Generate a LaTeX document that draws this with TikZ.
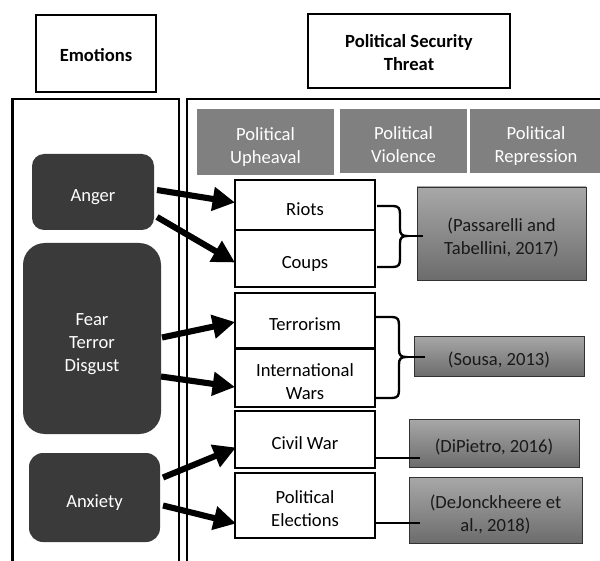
\documentclass[tikz,border=0pt]{standalone}
\usepackage{fontspec}
\setmainfont{Carlito}
\usetikzlibrary{arrows.meta,calc}
\definecolor{emodark}{RGB}{58,58,58}
\definecolor{headgray}{RGB}{128,128,128}
\definecolor{citetop}{RGB}{168,168,168}
\definecolor{citebot}{RGB}{108,108,108}
\definecolor{citeedge}{RGB}{50,50,50}
\definecolor{citetext}{RGB}{25,25,25}
\def\u{0.85pt}
% centred lines of text, set a little below the box centre
\newcommand\celltext[2][-4.4pt]{\raisebox{#1}[\height][\depth]{\begin{tabular}{@{}c@{}}#2\end{tabular}}}
\begin{document}
\begin{tikzpicture}[x=0.85pt,y=-0.85pt,
  every node/.style={font=\fontsize{15.8}{19.5}\selectfont, align=center,
    inner sep=0pt, outer sep=0pt},
  panel/.style={draw=black, line width=2.2pt},
  titlebox/.style={draw=black, line width=1.8pt,
    font=\fontsize{15.8}{19.5}\selectfont\bfseries},
  emotion/.style={fill=emodark, text=white},
  header/.style={fill=headgray, text=white},
  threat/.style={draw=black, line width=1.7pt, fill=white},
  cite/.style={draw=citeedge, line width=0.8pt, top color=citetop,
    bottom color=citebot, text=citetext},
  bigarrow/.style={line width=5.2pt, -{Triangle[length=19pt,width=19.5pt]}},
  link/.style={line width=2pt},
  bracket/.style={line width=2pt}
]
\useasboundingbox (0,0) rectangle (600,561);

% outer panels
\draw[panel] (12.5,570) -- (12.5,99) -- (179,99) -- (179,570);
\draw[panel] (187,570) -- (187,99) -- (610,99);

% column titles
\node[titlebox, minimum width=120*\u, minimum height=77*\u] (emotitle) at (96,53.5) {\celltext[-2.9pt]{Emotions}};
\node[titlebox, minimum width=202*\u, minimum height=74*\u] (threattitle) at (409,51) {\celltext[-2.9pt]{Political Security\\Threat}};

% category headers
\node[header, minimum width=137*\u, minimum height=66*\u] (upheaval) at (265.5,142) {\celltext{Political\\Upheaval}};
\node[header, minimum width=127*\u, minimum height=64*\u] (violence) at (403.5,141) {\celltext{Political\\Violence}};
\node[header, minimum width=132*\u, minimum height=64*\u] (repression) at (536,141) {\celltext{Political\\Repression}};

% emotions
\node[emotion, rounded corners=12*\u, minimum width=122*\u, minimum height=76*\u] (anger) at (93,192) {\celltext{Anger}};
\node[emotion, rounded corners=22*\u, minimum width=138*\u, minimum height=191*\u] (fear) at (92,338.5) {\celltext{Fear\\Terror\\Disgust}};
\node[emotion, rounded corners=14*\u, minimum width=131*\u, minimum height=89*\u] (anxiety) at (94.5,497.5) {\celltext{Anxiety}};

% threats
\node[threat, minimum width=140*\u, minimum height=50*\u] (riots) at (305,205.5) {\celltext{Riots}};
\node[threat, minimum width=140*\u, minimum height=57*\u] (coups) at (305,258.5) {\celltext{Coups}};
\node[threat, minimum width=140*\u, minimum height=55*\u] (terror) at (305,320.5) {\celltext{Terrorism}};
\node[threat, minimum width=140*\u, minimum height=58*\u] (intl) at (305,378) {\celltext{International\\Wars}};
\node[threat, minimum width=140*\u, minimum height=57*\u] (civil) at (305,439.5) {\celltext{Civil War}};
\node[threat, minimum width=140*\u, minimum height=65*\u] (elect) at (305,505.5) {\celltext{Political\\Elections}};

% references
\node[cite, minimum width=169*\u, minimum height=93*\u] (passarelli) at (501.5,233.5) {\celltext{(Passarelli and\\Tabellini, 2017)}};
\node[cite, minimum width=170*\u, minimum height=40*\u] (sousa) at (499,356) {\celltext{(Sousa, 2013)}};
\node[cite, minimum width=170*\u, minimum height=48*\u] (dipietro) at (494,443) {\celltext{(DiPietro, 2016)}};
\node[cite, minimum width=173*\u, minimum height=66*\u] (dejonck) at (495.5,510) {\celltext{(DeJonckheere et\\al., 2018)}};

% emotion -> threat arrows
\draw[bigarrow] ($(anger.east)+(3,-2)$) -- ($(riots.west)+(0,-3)$);
\draw[bigarrow] ($(anger.east)+(3,25)$) -- ($(coups.west)+(0,4)$);
\draw[bigarrow] ($(fear.east)+(1,-1)$) -- ($(terror.west)+(0,1.5)$);
\draw[bigarrow] ($(fear.east)+(0,38)$) -- ($(intl.west)+(0,9)$);
\draw[bigarrow] ($(anxiety.east)+(3,-20)$) -- ($(civil.west)+(1,8)$);
\draw[bigarrow] ($(anxiety.east)+(3,8)$) -- ($(elect.west)+(1,18)$);

% braces grouping threats to references
\coordinate (tipA) at (407,236);
\draw[bracket] (377,206) -- (393,206) .. controls (399,206) and (400,209) .. (400,214)
  -- (400,229) .. controls (400,234) and (402,236) .. (tipA)
  .. controls (402,236) and (400,238) .. (400,243) -- (400,259)
  .. controls (400,264) and (399,267) .. (393,267) -- (377,267);
\draw[link] (tipA) -- ($(tipA -| passarelli.west)+(6,0)$);

\coordinate (tipB) at (406,357);
\draw[bracket] (376,317) -- (392,317) .. controls (398,317) and (399,320) .. (399,325)
  -- (399,350) .. controls (399,355) and (401,357) .. (tipB)
  .. controls (401,357) and (399,359) .. (399,364) -- (399,390)
  .. controls (399,395) and (398,398) .. (392,398) -- (376,398);
\draw[link] (tipB) -- ($(tipB -| sousa.west)+(11,0)$);

% single links
\coordinate (civlink) at ($(civil.south east)+(0,-10)$);
\draw[link] (civlink) -- ($(civlink -| dipietro.west)+(11,0)$);
\coordinate (eleclink) at ($(elect.south east)+(0,-15)$);
\draw[link] (eleclink) -- ($(eleclink -| dejonck.west)+(11,0)$);
\end{tikzpicture}
\end{document}
